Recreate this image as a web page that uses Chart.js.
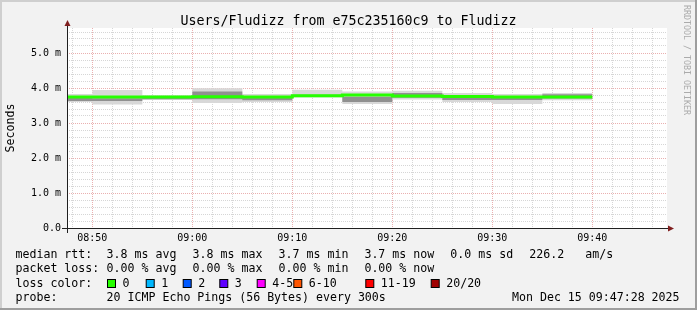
<!DOCTYPE html>
<html>
<head>
<meta charset="utf-8">
<title>Users/Fludizz from e75c235160c9 to Fludizz</title>
<script src="https://cdn.jsdelivr.net/npm/chart.js@4.4.1/dist/chart.umd.min.js"></script>
<style>
  html, body { margin: 0; padding: 0; background: #f2f2f2; }
  canvas { display: block; }
</style>
</head>
<body>
<canvas id="chart" width="697" height="310"></canvas>
<script>
// 5 minute steps, each value covers the 5 minutes that end at that time
const slotEnds  = ['08:50','08:55','09:00','09:05','09:10','09:15','09:20','09:25','09:30','09:35','09:40'];
const medianRtt = [3.74, 3.74, 3.74, 3.75, 3.74, 3.78, 3.80, 3.77, 3.76, 3.74, 3.74];
const smokeMax  = [3.83, 3.94, 3.79, 3.99, 3.83, 3.95, 3.90, 3.92, 3.86, 3.83, 3.86];
const smokeHigh = [3.72, 3.71, 3.74, 3.90, 3.76, 3.81, 3.75, 3.86, 3.80, 3.73, 3.82];
const smokeLow  = [3.63, 3.63, 3.68, 3.68, 3.65, 3.76, 3.60, 3.72, 3.66, 3.66, 3.70];
const smokeMin  = [3.60, 3.53, 3.66, 3.57, 3.60, 3.73, 3.54, 3.67, 3.60, 3.54, 3.65];

const viewStart = '08:47:28';
const viewEnd   = '09:47:28';
const xTickLabels = ['08:50','09:00','09:10','09:20','09:30','09:40'];
const yTickLabels = ['0.0','1.0 m','2.0 m','3.0 m','4.0 m','5.0 m'];

const lossLabels = ['0','1','2','3','4-5','6-10','11-19','20/20'];
const lossColors = ['#26ff00','#00b8ff','#0059ff','#5e00ff','#ff00ff','#ff5500','#ff0000','#a00000'];

function toMin(s) {
    let p = s.split(':').map(Number);
    return p[0] * 60 + p[1] + (p[2] || 0) / 60;
}

function steps(values) {
    let pts = [{x: toMin(slotEnds[0]) - 5, y: values[0]}];
    slotEnds.forEach((t, i) => pts.push({x: toMin(t), y: values[i]}));
    return pts;
}

const MONO = '"DejaVu Sans Mono", "Liberation Mono", monospace';
const MINOR = '#d6d6d6';
const MAJOR = '#eab0b0';

const rrdLook = {
    id: 'rrdLook',
    beforeDraw(chart) {
        let ctx = chart.ctx, a = chart.chartArea, w = chart.width, h = chart.height;
        ctx.save();
        ctx.fillStyle = '#f2f2f2';
        ctx.fillRect(0, 0, w, h);
        ctx.fillStyle = '#cfcfcf';
        ctx.fillRect(0, 0, w, 2);
        ctx.fillRect(0, 0, 2, h);
        ctx.fillStyle = '#9e9e9e';
        ctx.fillRect(0, h - 2, w, 2);
        ctx.fillRect(w - 2, 0, 2, h);
        ctx.fillStyle = '#ffffff';
        ctx.fillRect(a.left, a.top, a.right - a.left, a.bottom - a.top);
        ctx.restore();
    },
    afterDraw(chart) {
        let ctx = chart.ctx, a = chart.chartArea;
        ctx.save();

        // axes with arrows
        ctx.strokeStyle = '#1f1f1f';
        ctx.lineWidth = 1;
        ctx.beginPath();
        ctx.moveTo(a.left - 5, a.bottom + 0.5);
        ctx.lineTo(a.right + 1, a.bottom + 0.5);
        ctx.moveTo(a.left + 0.5, a.bottom + 5);
        ctx.lineTo(a.left + 0.5, a.top - 2);
        ctx.stroke();
        ctx.fillStyle = '#801f1f';
        ctx.beginPath();
        ctx.moveTo(a.right + 1, a.bottom - 2.5);
        ctx.lineTo(a.right + 7, a.bottom + 0.5);
        ctx.lineTo(a.right + 1, a.bottom + 3.5);
        ctx.fill();
        ctx.beginPath();
        ctx.moveTo(a.left - 2.5, a.top - 2);
        ctx.lineTo(a.left + 0.5, a.top - 8);
        ctx.lineTo(a.left + 3.5, a.top - 2);
        ctx.fill();

        // title
        ctx.fillStyle = '#000';
        ctx.font = '13.3px ' + MONO;
        ctx.textAlign = 'center';
        ctx.textBaseline = 'alphabetic';
        ctx.fillText('Users/Fludizz from e75c235160c9 to Fludizz', 348.5, 24.5);

        // vertical label
        ctx.font = '11.6px ' + MONO;
        ctx.save();
        ctx.translate(14, (a.top + a.bottom) / 2);
        ctx.rotate(-Math.PI / 2);
        ctx.fillText('Seconds', 0, 0);
        ctx.restore();

        // watermark
        ctx.save();
        ctx.fillStyle = '#ababab';
        ctx.font = '8.3px ' + MONO;
        ctx.textAlign = 'left';
        ctx.translate(683.5, 5);
        ctx.rotate(Math.PI / 2);
        ctx.fillText('RRDTOOL / TOBI OETIKER', 0, 0);
        ctx.restore();

        // legend, rrdtool places each item on its own
        ctx.textAlign = 'left';
        ctx.font = '11.6px ' + MONO;
        let cols = [106.6, 192.6, 278.6, 364.4];
        ctx.fillText('median rtt:', 15.5, 258);
        ['3.8 ms avg', '3.8 ms max', '3.7 ms min', '3.7 ms now'].forEach((s, i) => ctx.fillText(s, cols[i], 258));
        ctx.fillText('0.0 ms sd', 450.3, 258);
        ctx.fillText('226.2', 529.3, 258);
        ctx.fillText('am/s', 585.3, 258);

        ctx.fillText('packet loss:', 15.5, 272.3);
        ['0.00 % avg', '0.00 % max', '0.00 % min', '0.00 % now'].forEach((s, i) => ctx.fillText(s, cols[i], 272.3));

        ctx.fillText('loss color:', 15.5, 286.6);
        ctx.fillText('probe:', 15.5, 301);
        ctx.fillText('20 ICMP Echo Pings (56 Bytes) every 300s', 106.6, 301);
        ctx.fillText('Mon Dec 15 09:47:28 2025', 512, 301);

        let boxX = [107, 145.7, 182.7, 219.3, 256.7, 293.3, 365.3, 430.7];
        lossLabels.forEach((lab, i) => {
            ctx.fillStyle = lossColors[i];
            ctx.fillRect(boxX[i] + 0.5, 279.5, 8, 8);
            ctx.strokeStyle = '#000';
            ctx.strokeRect(boxX[i] + 0.5, 279.5, 8, 8);
            ctx.fillStyle = '#000';
            ctx.fillText(lab, boxX[i] + 15.5, 286.6);
        });
        ctx.restore();
    }
};

function band(data, fill, color, order) {
    return {
        data: steps(data),
        stepped: 'after',
        borderWidth: 0,
        pointRadius: 0,
        fill: fill,
        backgroundColor: color,
        order: order
    };
}

let ctx = document.getElementById('chart').getContext('2d');
let chart = new Chart(ctx, {
    type: 'line',
    data: {
        datasets: [
            {
                label: 'median rtt',
                data: steps(medianRtt),
                stepped: 'after',
                borderColor: '#26ff00',
                borderWidth: 3,
                pointRadius: 0,
                fill: false,
                order: 0
            },
            band(smokeHigh, '+1', '#909090', 1),
            band(smokeLow, false, 'transparent', 1),
            band(smokeMax, '+1', '#d8d8d8', 2),
            band(smokeMin, false, 'transparent', 2)
        ]
    },
    options: {
        responsive: false,
        animation: false,
        devicePixelRatio: 1,
        layout: { padding: { left: 0, right: 30, top: 28, bottom: 0 } },
        plugins: {
            legend: { display: false },
            title: { display: false },
            tooltip: { enabled: false }
        },
        scales: {
            x: {
                type: 'linear',
                min: toMin(viewStart),
                max: toMin(viewEnd),
                afterBuildTicks: s => {
                    let t = [];
                    for (let m = Math.ceil(s.min / 2) * 2; m <= s.max; m += 2) t.push({value: m});
                    s.ticks = t;
                },
                afterFit: s => { s.height = 82; },
                border: { display: false, dash: [1, 1] },
                grid: {
                    drawTicks: false,
                    color: c => (c.tick && c.tick.value % 10 === 0) ? MAJOR : MINOR
                },
                ticks: {
                    autoSkip: false,
                    maxRotation: 0,
                    padding: 4,
                    color: '#000',
                    font: { family: MONO, size: 10 },
                    callback: v => {
                        let i = xTickLabels.findIndex(l => toMin(l) === v);
                        return i < 0 ? '' : xTickLabels[i];
                    }
                }
            },
            y: {
                min: 0,
                max: 200 / 35,
                afterBuildTicks: s => {
                    let t = [];
                    for (let k = 0; k / 5 <= s.max; k++) t.push({value: k / 5});
                    s.ticks = t;
                },
                afterFit: s => { s.width = 67; },
                border: { display: false, dash: [1, 1] },
                grid: {
                    drawTicks: false,
                    color: c => (c.tick && Math.abs(c.tick.value - Math.round(c.tick.value)) < 1e-6) ? MAJOR : MINOR
                },
                ticks: {
                    autoSkip: false,
                    padding: 6,
                    color: '#000',
                    font: { family: MONO, size: 10 },
                    callback: v => {
                        let k = Math.round(v * 5);
                        return k % 5 === 0 ? yTickLabels[k / 5] : '';
                    }
                }
            }
        }
    },
    plugins: [rrdLook]
});
</script>
</body>
</html>
